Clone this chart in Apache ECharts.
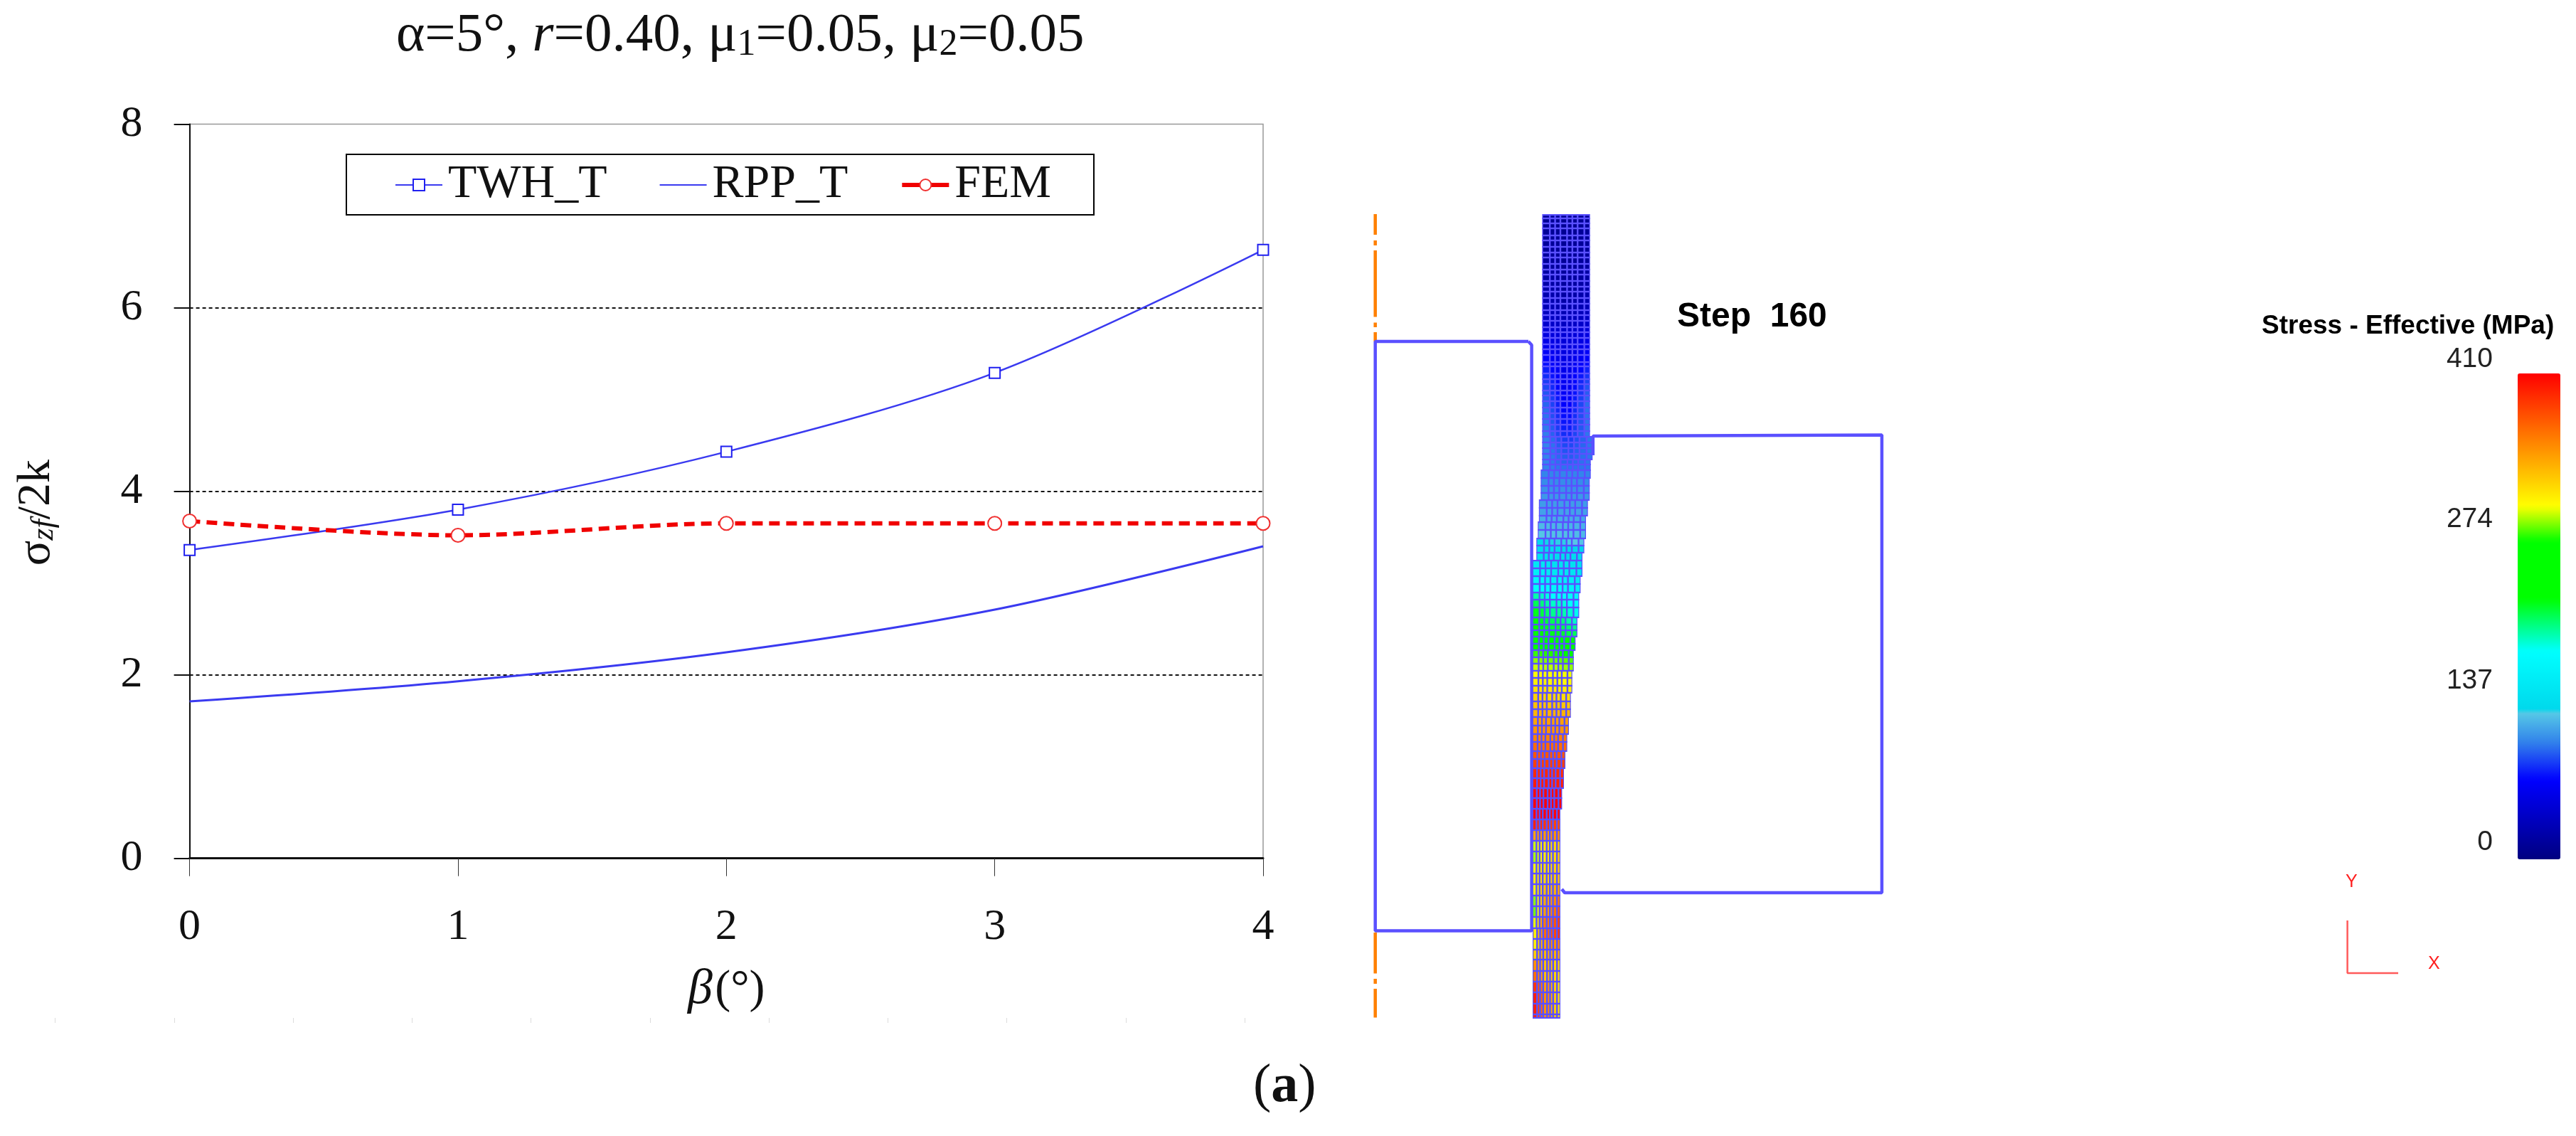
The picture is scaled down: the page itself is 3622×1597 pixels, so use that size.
<!DOCTYPE html>
<html><head><meta charset="utf-8">
<style>html,body{margin:0;padding:0;background:#fff}#c{width:3622px;height:1597px}</style>
<script src="https://cdn.jsdelivr.net/npm/echarts@6/dist/echarts.min.js"></script>
</head><body><div id="c"></div>
<script>
// ---- left chart data ----
const betaTicks = [0, 1, 2, 3, 4];
const twhT = [3.36, 3.80, 4.43, 5.29, 6.63];
const rppT = [1.71, 1.93, 2.245, 2.71, 3.40];
const fem  = [3.675, 3.52, 3.65, 3.65, 3.65];
const seriesNames = ['TWH_T', 'RPP_T', 'FEM'];

// ---- FEM snapshot: tool outlines (model units of the diagram axes) ----
const leftDie = [[2149,480],[1933.7,480],[1933.7,1308.5],[2153.6,1308.5],[2153.6,485],[2149,480]];
const rightDie = [[2239.8,640],[2239.8,613],[2241,611.6],[2646,611.6],[2646,1255],[2200,1255],[2196,1250]];
const centreLine = [[1933.7,301],[1933.7,330],[1933.7,null],[1933.7,338],[1933.7,345],[1933.7,null],
  [1933.7,352],[1933.7,445.5],[1933.7,null],[1933.7,453.6],[1933.7,460],[1933.7,null],[1933.7,467],[1933.7,480],[1933.7,null],
  [1933.7,1311],[1933.7,1368.6],[1933.7,null],[1933.7,1376],[1933.7,1383],[1933.7,null],[1933.7,1390],[1933.7,1430.5]];
const triadLines = [[3300.6,1294],[3300.6,1368],[3372,1368]];

// ---- strip profile: stepped edges (edge value until the given y) ----
const leftEdgeEnd = [661,703,732,757,783,1305,1432];
const leftEdgeX   = [2168.4,2166.3,2163.8,2162.2,2160.2,2154,2155];
const rightEdgeEnd = [612,640.6,670,696,723,750,777,806,832.6,861.5,887.5,914,943,970,998.5,1025,1054,1080,1106,1135.5,1432];
const rightEdgeX   = [2235.7,2239.3,2236.7,2235.2,2232.7,2230,2227.6,2225,2222.4,2220.4,2217.9,2215.3,2212.8,2210.7,2208.7,2206,2203.6,2201,2199,2196.4,2193.9];
const columnEdges = [0,.16,.27,.38,.52,.63,.74,.88,1];
const stripEnd = 1431;

// ---- mesh rows: top of each row, stress (MPa) read at left / centre / right ----
const rowTop = [302,307,314,321,331,338,347,355,362,371,379,386,395,403,410,419,427,436,443,451,460,467,475,484,491,499,509,515,525,533,540,549,556,564,573,
 581,589,597,606,614,622,630,638,646,653,
 661,672,683,693,703,714,725,734,745,757,767,777,788,799,810,821,833,843,854,
 868,878,886,895,905,914,924,933,943,953,964,974,986,997,1008,1020,1032,1043,1056,1067,1080,1094,1108,1122,1137,1152,1167,1182,1197,1213,1228,1243,1259,1274,1289,1305,1320,1335,1349,1365,1380,1395,1411,1426];
const stressL = [12,12,12,13,13,14,14,15,15,16,18,18,20,22,24,26,28,32,36,40,46,50,55,58,62,66,70,74,78,82,85,88,90,92,94,
 95,96,97,98,99,100,100,100,100,100,
 100,102,104,106,108,110,114,118,122,125,130,136,145,155,165,175,190,205,215,
 218,220,222,240,258,275,285,292,298,305,312,318,325,330,338,345,352,362,372,382,392,398,406,410,408,395,338,292,288,298,305,300,285,282,295,305,305,320,345,360,385,395,395,395];
const stressC = [10,10,10,10,11,11,12,12,12,13,14,14,15,16,18,20,22,26,30,34,40,44,46,48,50,52,54,56,58,60,60,62,64,66,68,
 70,72,74,78,82,85,88,90,92,95,
 100,102,104,106,108,110,113,116,120,124,128,132,138,145,155,165,175,185,195,
 205,210,215,235,250,272,282,290,298,303,310,316,325,332,340,345,352,362,372,382,392,398,406,410,408,385,342,310,305,312,315,325,335,340,355,362,340,330,325,325,340,345,345,345];
const stressR = [12,12,12,13,13,14,14,15,15,16,18,18,20,22,24,26,28,32,36,40,46,50,55,58,62,66,70,75,80,84,88,90,92,94,95,
 95,96,96,96,96,96,96,96,96,96,
 100,102,104,106,108,110,112,115,118,122,125,130,135,140,148,155,165,172,178,
 185,195,205,225,240,262,278,285,296,300,305,312,322,330,340,345,355,362,372,382,390,395,405,410,408,375,345,318,318,320,322,335,355,368,380,385,350,335,315,312,310,310,310,310];

// ---- colour bar ----
const colourStopPos = [0,.163,.241,.30,.305,.428,.536,.654,.727,1];
const colourStopRgb = [[0,0,128],[0,0,255],[50,130,235],[85,200,230],[0,215,235],[0,255,255],[0,255,0],[0,255,0],[255,255,0],[255,0,0]];
const colourBarTicks = [0,137,274,410];
const stressMax = 410;

function sampleColour(f){
  let i=0; while(i<colourStopPos.length-2 && f>colourStopPos[i+1]) i++;
  const t=(f-colourStopPos[i])/(colourStopPos[i+1]-colourStopPos[i]);
  const a=colourStopRgb[i],b=colourStopRgb[i+1];
  return 'rgb('+a.map((v,k)=>Math.round(v+(b[k]-v)*t)).join(',')+')';
}
const colourList=[]; for(let k=0;k<=200;k++) colourList.push(sampleColour(k/200));
function stepLookup(ends,xs,y){ for(let i=0;i<ends.length;i++){ if(y<ends[i]) return xs[i]; } return xs[xs.length-1]; }

const meshGap=1.2;
const rowBands=[], meshCells=[];
rowTop.forEach((top,r)=>{
  const bottom = r+1<rowTop.length ? rowTop[r+1] : stripEnd;
  const l=stepLookup(leftEdgeEnd,leftEdgeX,top), rr=stepLookup(rightEdgeEnd,rightEdgeX,top);
  rowBands.push([l,rr,top-1,bottom+1]);
  for(let c=0;c<8;c++){
    const pick = c<=3 ? stressL[r]+(stressC[r]-stressL[r])*c/3 : stressC[r]+(stressR[r]-stressC[r])*(c-4)/3;
    meshCells.push([l+columnEdges[c]*(rr-l)+meshGap, l+columnEdges[c+1]*(rr-l)-meshGap, top+meshGap, bottom-meshGap, pick]);
  }
});
function rectItem(params,api,fill){
  const p0=api.coord([api.value(0),api.value(2)]), p1=api.coord([api.value(1),api.value(3)]);
  return {type:'rect',shape:{x:p0[0],y:p0[1],width:p1[0]-p0[0],height:p1[1]-p0[1]},style:{fill:fill}};
}
const serif='"Liberation Serif"', sans='"Liberation Sans"';
const toPairs=a=>a.map((v,i)=>[betaTicks[i],v]);
const toolBlue='#5a50ff';
const toolLine=(d)=>({type:'line',xAxisIndex:1,yAxisIndex:1,data:d,symbol:'none',silent:true,lineStyle:{color:toolBlue,width:4.5},z:5});

const chart=echarts.init(document.getElementById('c'),null,{renderer:'canvas'});
chart.setOption({
  animation:false,backgroundColor:'#fff',
  title:{left:557,top:12,padding:0,
    text:'α=5°, {i|r}=0.40, μ{s|1}=0.05, μ{s|2}=0.05',
    textStyle:{fontFamily:serif,fontSize:77,fontWeight:'normal',color:'#111',
      rich:{i:{fontFamily:serif,fontStyle:'italic',fontSize:77,color:'#111'},
            s:{fontFamily:serif,fontSize:52,color:'#111',verticalAlign:'bottom',padding:[24,0,0,0]}}}},
  legend:{left:487,top:217,orient:'horizontal',itemWidth:66,itemHeight:20,itemGap:73,
    data:[{name:seriesNames[0]},{name:seriesNames[1]},{name:seriesNames[2],lineStyle:{type:'solid',width:6}}],
    padding:[10,60,9,68],borderColor:'#000',borderWidth:2,backgroundColor:'#fff',selectedMode:false,
    textStyle:{fontFamily:serif,fontSize:66,color:'#111',padding:[0,0,0,3]}},
  grid:[
    {left:266.6,top:174.5,width:1509.4,height:1032.2,show:true,borderColor:'#999',borderWidth:1.5,backgroundColor:'transparent',outerBoundsMode:'none',containLabel:false},
    {left:1900,top:250,width:1722,height:1200,show:false,outerBoundsMode:'none'},
    {left:77.6,top:1430,width:1672.4,height:1,show:false,outerBoundsMode:'none'},
    {left:3510,top:505,width:30,height:679,show:false,outerBoundsMode:'none'}
  ],
  xAxis:[
    {type:'value',gridIndex:0,min:0,max:4,interval:1,
     name:'{b|β} {n|(°)}',nameLocation:'middle',nameGap:150,
     nameTextStyle:{rich:{b:{fontFamily:serif,fontStyle:'italic',fontSize:70,color:'#111'},n:{fontFamily:serif,fontSize:66,color:'#111'}}},
     axisLine:{onZero:false,lineStyle:{color:'#111',width:3}},
     axisTick:{length:25,lineStyle:{color:'#333',width:1}},
     axisLabel:{margin:66,fontFamily:serif,fontSize:62,color:'#111',showMaxLabel:true,showMinLabel:true,hideOverlap:false},
     splitLine:{show:false}},
    {type:'value',gridIndex:1,min:1900,max:3622,show:false,splitLine:{show:false}},
    {type:'value',gridIndex:2,min:0,max:10,interval:1,
     axisLine:{show:false},axisLabel:{show:false},splitLine:{show:false},
     axisTick:{length:7,lineStyle:{color:'#dcdcdc',width:1}}},
    {type:'value',gridIndex:3,min:0,max:1,show:false,splitLine:{show:false}}
  ],
  yAxis:[
    {type:'value',gridIndex:0,min:0,max:8,interval:2,
     name:'{a|σ}{z|zf}{a|/2k}',nameLocation:'middle',nameGap:182,nameRotate:90,
     nameTextStyle:{padding:[0,60,0,0],rich:{a:{fontFamily:serif,fontSize:66,color:'#111'},z:{fontFamily:serif,fontStyle:'italic',fontSize:44,color:'#111',verticalAlign:'bottom',padding:[20,0,0,0]}}},
     axisLine:{onZero:false,lineStyle:{color:'#111',width:2}},
     axisTick:{length:22,lineStyle:{color:'#111',width:2}},
     axisLabel:{margin:66,fontFamily:serif,fontSize:62,color:'#111'},
     splitLine:{show:true,showMinLine:false,showMaxLine:false,lineStyle:{color:'#111',width:2,type:[5,4]}}},
    {type:'value',gridIndex:1,min:250,max:1450,inverse:true,show:false,splitLine:{show:false}},
    {type:'value',gridIndex:2,min:0,max:1,show:false,splitLine:{show:false}},
    {type:'value',gridIndex:3,min:0,max:stressMax,position:'left',
     axisLine:{show:false},axisTick:{show:false},splitLine:{show:false},
     axisLabel:{margin:5,fontFamily:sans,fontSize:39,color:'#222',customValues:colourBarTicks}}
  ],
  visualMap:{type:'continuous',seriesIndex:4,dimension:4,min:0,max:stressMax,calculable:false,realtime:false,
    left:3540,top:525,itemWidth:60,itemHeight:683,padding:0,text:['',''],showLabel:false,hoverLink:false,
    inRange:{color:colourList},borderWidth:0},
  series:[
    {name:seriesNames[0],type:'line',xAxisIndex:0,yAxisIndex:0,data:toPairs(twhT),smooth:.32,
     symbol:'rect',symbolSize:15,showSymbol:true,z:3,
     lineStyle:{color:'#3a3af0',width:2.5},itemStyle:{color:'#fff',borderColor:'#2020f0',borderWidth:2}},
    {name:seriesNames[1],type:'line',xAxisIndex:0,yAxisIndex:0,data:toPairs(rppT),smooth:.32,
     symbol:'circle',showSymbol:false,z:3,lineStyle:{color:'#3a3af0',width:3},itemStyle:{color:'transparent',borderWidth:0}},
    {name:seriesNames[2],type:'line',xAxisIndex:0,yAxisIndex:0,data:toPairs(fem),smooth:.3,
     symbol:'circle',symbolSize:19,showSymbol:true,z:4,
     lineStyle:{color:'#f00000',width:6,type:[15,9]},itemStyle:{color:'#fff',borderColor:'#f03030',borderWidth:2}},
    {name:'stripBack',type:'custom',xAxisIndex:1,yAxisIndex:1,data:rowBands,silent:true,z:2,clip:false,
     encode:{x:[0,1],y:[2,3]},renderItem:(p,a)=>rectItem(p,a,toolBlue)},
    {name:'mesh',type:'custom',xAxisIndex:1,yAxisIndex:1,data:meshCells,silent:true,z:3,clip:false,
     encode:{x:[0,1],y:[2,3]},renderItem:(p,a)=>rectItem(p,a,a.visual('color'))},
    toolLine(leftDie),toolLine(rightDie),
    {name:'centreLine',type:'line',xAxisIndex:1,yAxisIndex:1,data:centreLine,symbol:'none',silent:true,connectNulls:false,
     lineStyle:{color:'#ff8000',width:4.5},z:4},
    {name:'triad',type:'line',xAxisIndex:1,yAxisIndex:1,data:triadLines,symbol:'none',silent:true,
     lineStyle:{color:'#ff5a5a',width:2.5},z:4},
    {name:'ruler',type:'line',xAxisIndex:2,yAxisIndex:2,data:[],silent:true},
    {name:'barAxis',type:'line',xAxisIndex:3,yAxisIndex:3,data:[],silent:true}
  ],
  graphic:[
    {type:'text',left:2358,top:422,silent:true,style:{text:'Step  160',fontFamily:sans,fontWeight:'bold',fontSize:48,fill:'#000'}},
    {type:'text',left:3180,top:440,silent:true,style:{text:'Stress - Effective (MPa)',fontFamily:sans,fontWeight:'bold',fontSize:37,fill:'#000'}},
    {type:'text',left:3298,top:1228,silent:true,style:{text:'Y',fontFamily:sans,fontSize:25,fill:'#ff2020'}},
    {type:'text',left:3414,top:1343,silent:true,style:{text:'X',fontFamily:sans,fontSize:25,fill:'#ff2020'}},
    {type:'text',left:1762,top:1490,silent:true,style:{text:'({b|a})',fontFamily:serif,fontSize:76,fill:'#111',rich:{b:{fontFamily:serif,fontWeight:'bold',fontSize:76,fill:'#111'}}}}
  ]
});
</script></body></html>
